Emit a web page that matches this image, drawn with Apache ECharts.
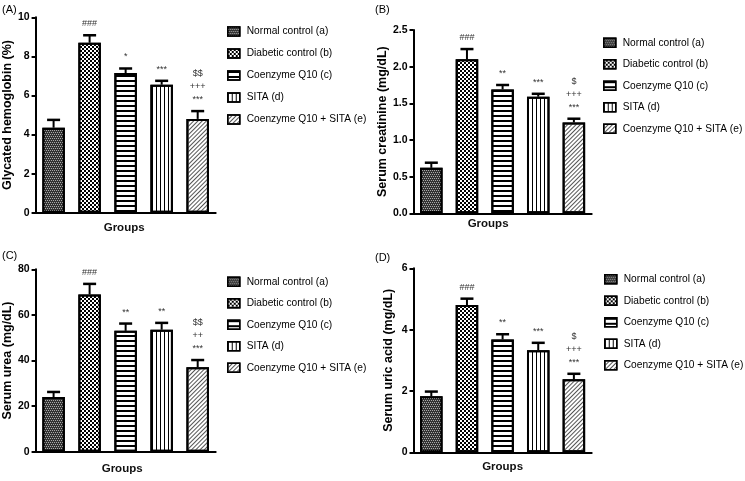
<!DOCTYPE html>
<html>
<head>
<meta charset="utf-8">
<script src="https://cdn.jsdelivr.net/npm/echarts@6/dist/echarts.min.js"></script>
<style>
  html, body { margin: 0; background: #fff; }
  #chart { width: 745px; height: 481px; }
</style>
</head>
<body>
<div id="chart"></div>
<script>
const groups = ['Normal control (a)', 'Diabetic control (b)', 'Coenzyme Q10 (c)', 'SITA (d)', 'Coenzyme Q10 + SITA (e)']

// (A) glycated hemoglobin
const hba1c = [4.35, 8.7, 7.15, 6.55, 4.8]
const hba1cErr = [0.4, 0.38, 0.23, 0.2, 0.4]
const hba1cMarks = ['', '###', '*', '***', '$$\n+++\n***']
const hba1cTicks = [0, 2, 4, 6, 8, 10]

// (B) serum creatinine
const creatinine = [0.62, 2.1, 1.69, 1.59, 1.24]
const creatinineErr = [0.07, 0.14, 0.06, 0.04, 0.05]
const creatinineMarks = ['', '###', '**', '***', '$\n+++\n***']
const creatinineTicks = [0, 0.5, 1.0, 1.5, 2.0, 2.5]

// (C) serum urea
const urea = [24, 69, 53, 53.5, 37]
const ureaErr = [2.2, 4.6, 3.2, 3, 3.2]
const ureaMarks = ['', '###', '**', '**', '$$\n++\n***']
const ureaTicks = [0, 20, 40, 60, 80]

// (D) serum uric acid
const uricAcid = [1.83, 4.8, 3.68, 3.33, 2.38]
const uricAcidErr = [0.15, 0.21, 0.17, 0.24, 0.18]
const uricAcidMarks = ['', '###', '**', '***', '$\n+++\n***']
const uricAcidTicks = [0, 2, 4, 6]

const panels = [
  { tag: '(A)', tagPos: [2, 4], yName: 'Glycated hemoglobin (%)', nameGap: 18,
    values: hba1c, err: hba1cErr, marks: hba1cMarks, ticks: hba1cTicks, digits: 0,
    grid: { left: 35.5, top: 17.3, width: 180.2, height: 195.4 },
    legend: { left: 227, top: 24.5, itemGap: 8 }, groupsGap: 9, groupsPad: 3 },
  { tag: '(B)', tagPos: [375, 4], yName: 'Serum creatinine (mg/dL)', nameGap: 15,
    values: creatinine, err: creatinineErr, marks: creatinineMarks, ticks: creatinineTicks, digits: 1,
    grid: { left: 413.5, top: 30, width: 178.2, height: 183.3 },
    legend: { left: 603, top: 35.7, itemGap: 7.5 }, groupsGap: 5, groupsPad: 29 },
  { tag: '(C)', tagPos: [2, 250], yName: 'Serum urea (mg/dL)', nameGap: 20,
    values: urea, err: ureaErr, marks: ureaMarks, ticks: ureaTicks, digits: 0,
    grid: { left: 35.5, top: 269.3, width: 180.2, height: 182.4 },
    legend: { left: 227, top: 274.7, itemGap: 7.5 }, groupsGap: 11, groupsPad: 7 },
  { tag: '(D)', tagPos: [375, 252], yName: 'Serum uric acid (mg/dL)', nameGap: 18,
    values: uricAcid, err: uricAcidErr, marks: uricAcidMarks, ticks: uricAcidTicks, digits: 0,
    grid: { left: 413.5, top: 268.3, width: 178.2, height: 184 },
    legend: { left: 604, top: 272.3, itemGap: 7.5 }, groupsGap: 9, groupsPad: 0 }
]

// fill patterns, one per group
const patterns = [
  { color: '#333', decal: { symbol: 'rect', color: '#aaa', dashArrayX: [[1, 1], [0, 1, 1, 0]], dashArrayY: [1, 1], symbolSize: 1, rotation: 0 } },
  { color: '#fff', decal: { symbol: 'rect', color: '#000', dashArrayX: [[2, 2], [0, 2, 2, 0]], dashArrayY: [2, 0], symbolSize: 1, rotation: 0 } },
  { color: '#fff', decal: { symbol: 'rect', color: '#000', dashArrayX: [1, 0], dashArrayY: [2, 3], symbolSize: 1, rotation: 0 } },
  { color: '#fff', decal: { symbol: 'rect', color: '#000', dashArrayX: [1, 3], dashArrayY: [1, 0], symbolSize: 1, rotation: 0 } },
  { color: '#fff', decal: { symbol: 'rect', color: '#555', dashArrayX: [1, 0], dashArrayY: [1, 2], symbolSize: 1, rotation: -Math.PI / 4 } }
]

const chart = echarts.init(document.getElementById('chart'))

const grid = [], xAxis = [], yAxis = [], legend = [], series = [], graphic = []

panels.forEach((p, k) => {
  grid.push(Object.assign({ containLabel: false }, p.grid))

  xAxis.push({
    type: 'category', gridIndex: k, data: groups,
    name: 'Groups', nameLocation: 'middle', nameGap: p.groupsGap,
    nameTextStyle: { fontFamily: 'Arial', fontSize: 11.5, fontWeight: 'bold', color: '#111', padding: [0, p.groupsPad, 0, 0], verticalAlign: 'top' },
    axisLine: { lineStyle: { color: '#000', width: 2 } },
    axisTick: { show: false },
    axisLabel: { show: false }
  })

  yAxis.push({
    type: 'value', gridIndex: k,
    min: p.ticks[0], max: p.ticks[p.ticks.length - 1], interval: p.ticks[1] - p.ticks[0],
    name: p.yName, nameLocation: 'middle', nameGap: p.nameGap,
    nameTextStyle: { fontFamily: 'Arial', fontWeight: 'bold', fontSize: 12.5, color: '#000' },
    axisLine: { show: true, lineStyle: { color: '#000', width: 2 } },
    axisTick: { show: true, length: 4, lineStyle: { color: '#000', width: 2 } },
    axisLabel: { color: '#000', fontFamily: 'Arial', fontWeight: 'bold', fontSize: 10.5, margin: 6,
      formatter: v => v.toFixed(p.digits) },
    splitLine: { show: false }
  })

  legend.push({
    orient: 'vertical', left: p.legend.left, top: p.legend.top, itemGap: p.legend.itemGap,
    padding: 0, itemWidth: 12, itemHeight: 9, icon: 'rect',
    data: groups,
    selectedMode: false,
    itemStyle: { borderColor: '#000', borderWidth: 1.5 },
    textStyle: { fontFamily: 'Arial', fontSize: 10.2, color: '#000', lineHeight: 14, padding: [0, 0, 0, 2] }
  })

  groups.forEach((g, i) => {
    series.push({
      type: 'bar', name: g, xAxisIndex: k, yAxisIndex: k,
      barWidth: 22.5, barGap: '-100%', silent: true, animation: false,
      data: groups.map((_, j) => (j === i ? p.values[j] : '-')),
      itemStyle: Object.assign({ borderColor: '#000', borderWidth: 2 }, patterns[i])
    })
  })

  // error bars (upper half) and significance marks
  series.push({
    type: 'custom', xAxisIndex: k, yAxisIndex: k, z: 5, silent: true, animation: false,
    data: p.values.map((v, j) => [j, v, p.err[j]]),
    renderItem(params, api) {
      const base = api.coord([api.value(0), api.value(1)])
      const top = api.coord([api.value(0), api.value(1) + api.value(2)])
      return {
        type: 'group',
        children: [
          { type: 'line', shape: { x1: base[0], y1: base[1], x2: top[0], y2: top[1] }, style: { stroke: '#000', lineWidth: 2 } },
          { type: 'line', shape: { x1: top[0] - 6.5, y1: top[1], x2: top[0] + 6.5, y2: top[1] }, style: { stroke: '#000', lineWidth: 2.5 } },
          { type: 'text', x: top[0], y: top[1] - 5,
            style: { text: p.marks[params.dataIndex], align: 'center', verticalAlign: 'bottom',
              fontFamily: 'Arial', fontSize: 9, lineHeight: 13, fill: '#333' } }
        ]
      }
    }
  })

  graphic.push({ type: 'text', left: p.tagPos[0], top: p.tagPos[1],
    style: { text: p.tag, fontFamily: 'Arial', fontSize: 11, fill: '#000' } })
})

chart.setOption({
  backgroundColor: '#fff',
  animation: false,
  aria: { enabled: true, decal: { show: true } },
  grid, xAxis, yAxis, legend, series, graphic
})
</script>
</body>
</html>
